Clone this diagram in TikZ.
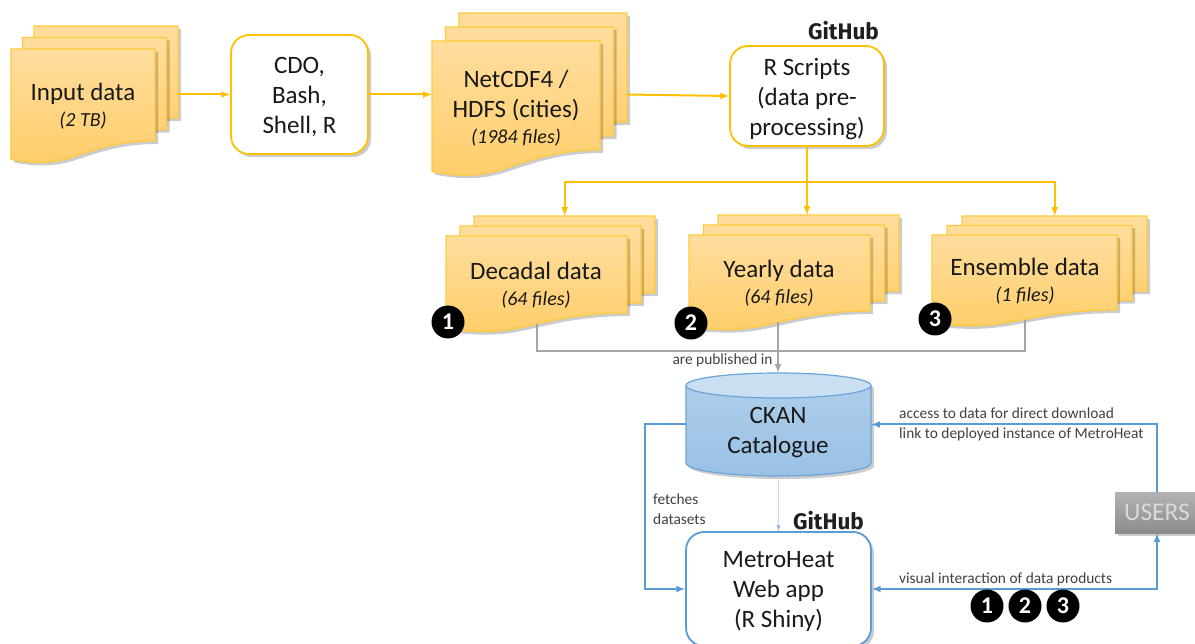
\documentclass[tikz,border=0pt]{standalone}
\usepackage{fontspec}
\setmainfont{Carlito}
\newfontfamily\logofont{Fira Sans}
\usetikzlibrary{arrows, shadows}

\definecolor{docyellow}{HTML}{FFC000}
\definecolor{docedge}{HTML}{FFCB3C}
\definecolor{doctop}{HTML}{FFDD9E}
\definecolor{docbottom}{HTML}{FFCE6A}
\definecolor{linkblue}{HTML}{5B9BD5}
\definecolor{linkgray}{HTML}{A5A5A5}

\newcommand{\filenotefont}{\fontsize{20}{22}\selectfont\itshape}

\tikzset{
  softshadow/.style = {drop shadow = {shadow xshift = 3pt, shadow yshift = -3pt, opacity = .2, fill = black}},
  docsheet/.style = {draw = docedge, line width = 1.2pt, top color = doctop, bottom color = docbottom, softshadow},
  docanchor/.style = {inner sep = 0pt, anchor = north west},
  stacktext/.style = {align = center, text = black!90, font = \fontsize{25}{30}\selectfont},
  yellowbox/.style = {draw = docyellow, line width = 1.8pt, rounded corners = 18pt, fill = white, softshadow, inner sep = 0pt},
  yline/.style = {draw = docyellow, line width = 2pt, >=latex},
  gline/.style = {draw = linkgray, line width = 2pt, >=latex},
  bline/.style = {draw = linkblue, line width = 2pt, >=latex},
  smalltext/.style = {align = left, text = black!75, font = \fontsize{15.4}{20}\selectfont, inner sep = 0pt},
  logotext/.style = {font = \logofont\bfseries\fontsize{22.5}{23}\selectfont, text = black!88, inner sep = 0pt},
  numdot/.style = {circle, fill = black, text = white, minimum size = 33pt, inner sep = 0pt, font = \bfseries\fontsize{24}{24}\selectfont},
}

% name, x, y, width, height to the right end of the wave, dip
\newcommand{\docpage}[6]{
  \draw[docsheet] (#2,#3) -- ({#2+#4},#3) -- ({#2+#4},{#3+#5})
    .. controls ({#2+.75*#4},{#3+#5}) and ({#2+.6*#4},{#3+#5+.35*#6}) .. ({#2+.45*#4},{#3+#5+.65*#6})
    .. controls ({#2+.33*#4},{#3+#5+.92*#6}) and ({#2+.2*#4},{#3+#5+1.05*#6}) .. (#2,{#3+#5+.8*#6}) -- cycle;
  \node[docanchor, minimum width = #4 pt, minimum height = {#5+.55*#6}] (#1) at (#2,#3) {};
}
% name, x, y, width, height, shift right, shift up, dip
\newcommand{\docstack}[8]{
  \docpage{#1A}{#2+2*#6}{#3-2*#7}{#4}{#5}{#8}
  \docpage{#1B}{#2+#6}{#3-#7}{#4}{#5}{#8}
  \docpage{#1}{#2}{#3}{#4}{#5}{#8}
}

\begin{document}
\begin{tikzpicture}[x = 1pt, y = -1pt]
\useasboundingbox (0,0) rectangle (1195,644);
\clip (0,0) rectangle (1195,644);
% top row
\docstack{input}{11}{49}{144}{92}{11.5}{11.5}{23}
\node[stacktext] (inputtext) at (83,106.5) {Input data\\[-4pt]{\filenotefont (2 TB)}};
\node[yellowbox, minimum width = 137pt, minimum height = 119pt] (cdo) at (299.5,94.5) {};
\node[stacktext] (cdotext) at (299.5,96.5) {CDO,\\Bash,\\Shell, R};
\docstack{netcdf}{432}{41}{168}{109}{13.5}{14}{27}
\node[stacktext] (netcdftext) at (516,108.5) {NetCDF4 /\\HDFS (cities)\\[-4pt]{\filenotefont (1984 files)}};
\node[yellowbox, minimum width = 154pt, minimum height = 100pt] (rscripts) at (807,96) {};
\node[stacktext] (rscriptstext) at (807,99) {R Scripts\\(data pre-\\processing)};
\node[logotext] (gitone) at (843.5,31) {GitHub};
\draw[yline, ->] (inputA.east |- cdo.west) -- (cdo.west);
\draw[yline, ->] (cdo.east) -- (netcdf.west |- cdo.east);
\draw[yline, ->] (netcdfA.east |- cdo.east) -- (rscripts.west);
% middle row
\docstack{decadal}{446}{236}{181}{77}{14}{10}{20}
\node[stacktext] (decadaltext) at (536,285.5) {Decadal data\\[-4pt]{\filenotefont (64 files)}};
\docstack{yearly}{689}{235}{181}{76}{14.5}{10}{20}
\node[stacktext] (yearlytext) at (779,283.5) {Yearly data\\[-4pt]{\filenotefont (64 files)}};
\docstack{ensemble}{932}{235}{185}{75}{15}{9.5}{17}
\node[stacktext] (ensembletext) at (1025,281.5) {Ensemble data\\[-4pt]{\filenotefont (1 files)}};
\node[numdot] (dotone) at (448,322) {1};
\node[numdot] (dottwo) at (691,323) {2};
\node[numdot] (dotthree) at (935,319) {3};
\coordinate (split) at (807,182);
\draw[yline] (rscripts.south) -- (split);
\draw[yline, ->] (split) -| (decadalA.north);
\draw[yline, ->] (split) -- (split |- yearlyA.north);
\draw[yline, ->] (split) -| (ensembleA.north);
% catalogue
\draw[draw = linkblue!90, line width = 1.2pt, top color = linkblue!48, bottom color = linkblue!62, softshadow]
  (686,386) -- (686,463) arc[start angle = 180, end angle = 360, x radius = 92.5, y radius = -13] -- (871,386)
  arc[start angle = 0, end angle = 180, x radius = 92.5, y radius = -12.5] -- cycle;
\draw[draw = linkblue!90, line width = 1.2pt, fill = linkblue!32] (778.5,385.5) ellipse[x radius = 92.5, y radius = 12.5];
\node[inner sep = 0pt, minimum width = 185pt, minimum height = 103pt] (ckan) at (778.5,424.5) {};
\node[stacktext] (ckantext) at (778,433) {CKAN\\Catalogue};
\coordinate (merge) at (778,351);
\draw[gline] (decadal.south) |- (merge) -| (ensemble.south);
\draw[gline, ->] (merge |- yearly.south) -- (merge |- ckan.north);
\node[smalltext, anchor = center] (publishedtext) at (722.5,360) {are published in};
% web app
\node[yellowbox, draw = linkblue, minimum width = 185pt, minimum height = 114pt] (metro) at (778.5,589) {};
\node[stacktext] (metrotext) at (778.5,591) {MetroHeat\\Web app\\(R Shiny)};
\node[logotext] (gittwo) at (828.5,521) {GitHub};
\node[inner sep = 0pt, minimum width = 84pt, minimum height = 41pt, top color = black!30, bottom color = black!45, softshadow, text = white!85!black, font = \fontsize{25.5}{25}\selectfont] (users) at (1157,512.5) {USERS};
\coordinate (fetchturn) at (645,424.5);
\draw[bline, ->] (ckan.west) -- (fetchturn) |- (metro.west);
\draw[bline, ->] (users.north) |- (ckan.east);
\draw[bline, <->] (metro.east) -| (users.south);
\draw[draw = linkblue!70, line width = 1pt, densely dotted, ->, >=latex] (ckan.south) -- (metro.north);
\node[smalltext, anchor = west] (fetchtext) at (653,509) {fetches\\datasets};
\node[smalltext, anchor = west] (accesstext) at (899,424.5) {access to data for direct download\\link to deployed instance of MetroHeat};
\node[smalltext, anchor = west] (visualtext) at (899,579.5) {visual interaction of data products};
\node[numdot] (dotfour) at (987,606) {1};
\node[numdot] (dotfive) at (1025,606) {2};
\node[numdot] (dotsix) at (1063,606) {3};
\end{tikzpicture}
\end{document}
